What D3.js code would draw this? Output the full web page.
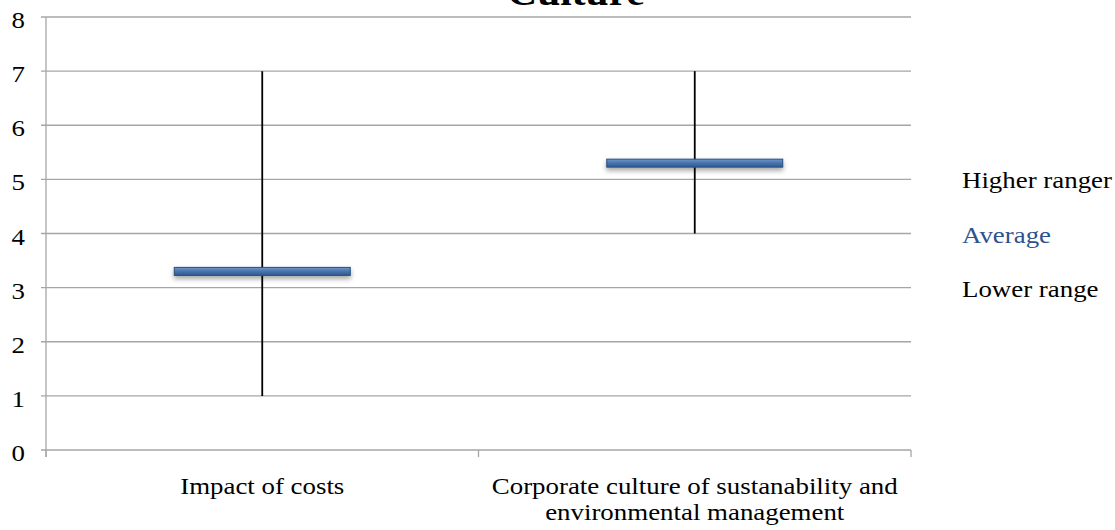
<!DOCTYPE html>
<html><head><meta charset="utf-8">
<script src="https://cdn.jsdelivr.net/npm/d3@7"></script>
<style>
html,body{margin:0;padding:0;background:#fff;}
svg{display:block;font-family:"Liberation Serif","Times New Roman",serif;}
</style></head>
<body>
<svg id="chart" width="1115" height="530"></svg>
<script>
const title = "Culture";
const categories = ["Impact of costs", "Corporate culture of sustanability and environmental management"];
const categoryLines = [["Impact of costs"], ["Corporate culture of sustanability and", "environmental management"]];
const higherRange = [7, 7];
const average = [3.3, 5.3];
const lowerRange = [1, 4];
const yTicks = [0, 1, 2, 3, 4, 5, 6, 7, 8];
const legendLabels = ["Higher ranger", "Average", "Lower range"];

const svg = d3.select("#chart");
const m = {left: 46, right: 911, top: 17, bottom: 450};
const x = d3.scaleBand().domain(categories).range([m.left, m.right]).padding(0);
const y = d3.scaleLinear().domain([0, 8]).range([m.bottom, m.top]);
const SX = 1.12, FS = 24;

function label(g, tx, ty, txt, anchor, color, size, weight) {
  return g.append("text")
    .attr("transform", `translate(${tx},${ty}) scale(${SX},1)`)
    .attr("text-anchor", anchor).attr("font-size", size || FS)
    .attr("font-weight", weight || "normal")
    .attr("fill", color || "#000").text(txt);
}

const defs = svg.append("defs");
const grad = defs.append("linearGradient").attr("id","barGrad").attr("x1",0).attr("y1",0).attr("x2",0).attr("y2",1);
grad.append("stop").attr("offset","0%").attr("stop-color","#6f98cc");
grad.append("stop").attr("offset","45%").attr("stop-color","#4a76b0");
grad.append("stop").attr("offset","100%").attr("stop-color","#2f5a8f");
const filt = defs.append("filter").attr("id","shadow").attr("x","-10%").attr("y","-100%").attr("width","120%").attr("height","400%");
filt.append("feDropShadow").attr("dx",0).attr("dy",3).attr("stdDeviation",2.5).attr("flood-color","#000").attr("flood-opacity",0.35);

// gridlines
svg.append("g").selectAll("line").data(yTicks).join("line")
  .attr("x1", m.left - 5).attr("x2", m.right)
  .attr("y1", d => y(d)).attr("y2", d => y(d))
  .attr("stroke", "#a6a6a6").attr("stroke-width", 1.3);

// y axis line
svg.append("line").attr("x1", m.left).attr("x2", m.left).attr("y1", m.top).attr("y2", m.bottom + 7)
  .attr("stroke", "#a6a6a6").attr("stroke-width", 1.3);

// y tick labels
const gy = svg.append("g");
yTicks.forEach(d => label(gy, 25, y(d) + 11, d, "end"));

// x category ticks
const xTickPos = [m.left, ...categories.map(c => x(c) + x.bandwidth())];
svg.append("g").selectAll("line").data(xTickPos).join("line")
  .attr("x1", d => d).attr("x2", d => d).attr("y1", m.bottom).attr("y2", m.bottom + 7)
  .attr("stroke", "#a6a6a6").attr("stroke-width", 1.3);

// category labels
const gx = svg.append("g");
categories.forEach((c, i) => {
  categoryLines[i].forEach((ln, j) => {
    label(gx, x(c) + x.bandwidth() / 2, 494 + j * 26, ln, "middle");
  });
});

// range lines
svg.append("g").selectAll("line").data(categories).join("line")
  .attr("x1", d => x(d) + x.bandwidth() / 2).attr("x2", d => x(d) + x.bandwidth() / 2)
  .attr("y1", (d, i) => y(higherRange[i])).attr("y2", (d, i) => y(lowerRange[i]))
  .attr("stroke", "#000").attr("stroke-width", 1.8);

// average bars
const barW = 176, barH = 8;
svg.append("g").selectAll("rect").data(categories).join("rect")
  .attr("x", d => x(d) + x.bandwidth() / 2 - barW / 2)
  .attr("y", (d, i) => y(average[i]) - barH / 2)
  .attr("width", barW).attr("height", barH)
  .attr("fill", "url(#barGrad)").attr("stroke", "#2a4f7e").attr("stroke-width", 1)
  .attr("filter", "url(#shadow)");

// legend
const legendY = [5, 4, 3];
const legendColors = ["#000", "#2c5390", "#000"];
const gl = svg.append("g");
legendLabels.forEach((t, i) => label(gl, 962, y(legendY[i]) + 9, t, "start", legendColors[i]));

// title (cut off at top)
label(svg, 576, 5, title, "middle", "#000", 37, "bold");
</script>
</body></html>
